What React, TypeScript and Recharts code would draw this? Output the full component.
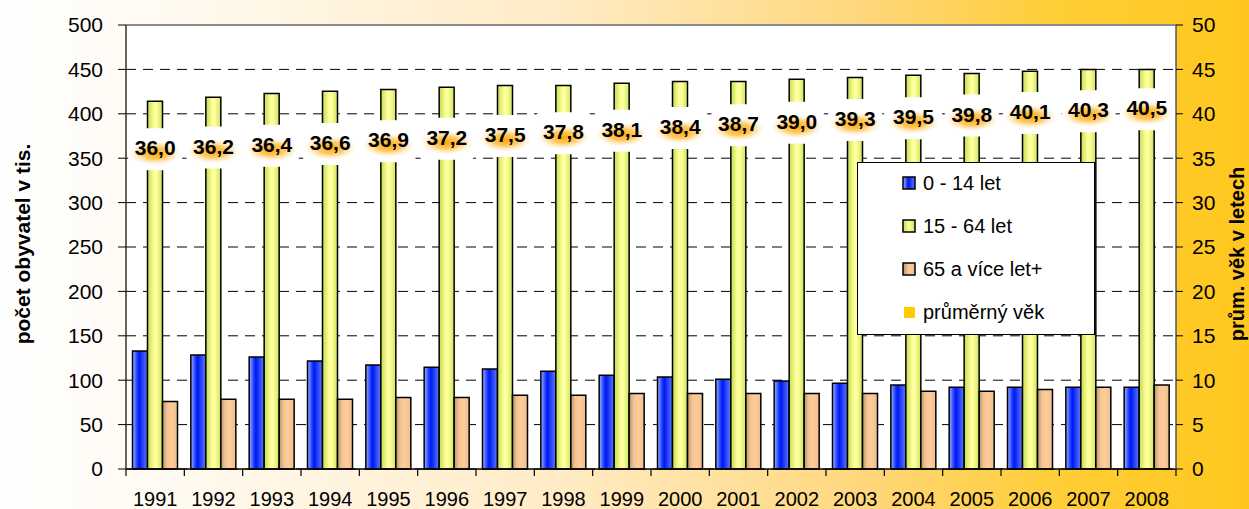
import React from 'react';
import {
  ComposedChart,
  Bar,
  Line,
  XAxis,
  YAxis,
  CartesianGrid,
  Legend,
  LabelList,
  ReferenceLine,
} from 'recharts';

const years = ['1991', '1992', '1993', '1994', '1995', '1996', '1997', '1998', '1999', '2000', '2001', '2002', '2003', '2004', '2005', '2006', '2007', '2008'];
const kids = [133, 128.5, 126, 121.5, 117, 114.5, 112.5, 110, 105.5, 103.5, 101, 99, 96.5, 94.5, 92, 92, 92, 92];
const working = [414, 418.5, 423, 425.5, 427.5, 430, 432, 432, 434.5, 436.5, 436.5, 439, 441, 443.5, 445.5, 448, 450, 450];
const seniors = [76, 78.5, 78.5, 78.5, 80.5, 80.5, 83, 83, 85, 85, 85, 85, 85, 87.5, 87.5, 89.5, 92, 94.5];
const avgAge = [36.0, 36.2, 36.4, 36.6, 36.9, 37.2, 37.5, 37.8, 38.1, 38.4, 38.7, 39.0, 39.3, 39.5, 39.8, 40.1, 40.3, 40.5];

const leftTicks = [0, 50, 100, 150, 200, 250, 300, 350, 400, 450, 500];
const rightTicks = [0, 5, 10, 15, 20, 25, 30, 35, 40, 45, 50];

const seriesNames = {
  kids: '0 - 14 let',
  working: '15 - 64 let',
  seniors: '65 a více let+',
  avg: 'průměrný věk',
};

const data = years.map((y, i) => ({
  year: y,
  kids: kids[i],
  working: working[i],
  seniors: seniors[i],
  avg: avgAge[i],
}));

const FONT = "'Liberation Sans', Arial, sans-serif";

const gradId: Record<string, string> = {
  kids: 'url(#gBlue)',
  working: 'url(#gGreen)',
  seniors: 'url(#gTan)',
};

const Gradients = () => (
  <defs>
    <linearGradient id="gBlue" x1="0" y1="0" x2="1" y2="0">
      <stop offset="0" stopColor="#9CB6FF" />
      <stop offset="0.3" stopColor="#2040FF" />
      <stop offset="0.45" stopColor="#0018F0" />
      <stop offset="1" stopColor="#5C7CFF" />
    </linearGradient>
    <linearGradient id="gGreen" x1="0" y1="0" x2="1" y2="0">
      <stop offset="0" stopColor="#C2DC50" />
      <stop offset="0.45" stopColor="#FFFF9C" />
      <stop offset="0.6" stopColor="#FFFF9C" />
      <stop offset="1" stopColor="#CCE460" />
    </linearGradient>
    <linearGradient id="gTan" x1="0" y1="0" x2="1" y2="0">
      <stop offset="0" stopColor="#B89468" />
      <stop offset="0.3" stopColor="#F2C494" />
      <stop offset="0.6" stopColor="#FFCC99" />
      <stop offset="1" stopColor="#EDBE8E" />
    </linearGradient>
    <radialGradient id="gGlow" cx="0.5" cy="0.5" r="0.5">
      <stop offset="0" stopColor="#FFA800" stopOpacity="1" />
      <stop offset="0.5" stopColor="#FFB830" stopOpacity="0.75" />
      <stop offset="1" stopColor="#FFE0A0" stopOpacity="0" />
    </radialGradient>
  </defs>
);

const AgeLabel = (props: any) => {
  const { x, y, value } = props;
  if (x == null || y == null) return null;
  const txt = Number(value).toFixed(1).replace('.', ',');
  return (
    <g>
      <rect x={x - 27} y={y - 21} width={54} height={42} rx={4} fill="#fff" />
      <ellipse cx={x} cy={y + 4} rx={26} ry={12} fill="url(#gGlow)" />
      <text
        x={x}
        y={y + 6}
        textAnchor="middle"
        fontFamily={FONT}
        fontWeight="bold"
        fontSize={21}
        fill="#000"
      >
        {txt}
      </text>
    </g>
  );
};

const XTick = (props: any) => {
  const { x, y, payload, index } = props;
  const half = payload && typeof payload.offset === 'number' ? payload.offset : 0;
  return (
    <g>
      <line x1={x - half} x2={x - half} y1={y} y2={y + 7} stroke="#000" strokeWidth={1.2} />
      {index === years.length - 1 && (
        <line x1={x + half} x2={x + half} y1={y} y2={y + 7} stroke="#000" strokeWidth={1.2} />
      )}
      <text x={x} y={y + 37} textAnchor="middle" fontFamily={FONT} fontSize={20} fill="#000">
        {payload.value}
      </text>
    </g>
  );
};

const AxisTitle = (props: any) => {
  const { viewBox, text, dx, dy, size } = props;
  if (!viewBox) return null;
  const cx = viewBox.x + dx;
  const cy = viewBox.y + viewBox.height / 2 + dy;
  return (
    <text
      x={cx}
      y={cy}
      transform={`rotate(-90, ${cx}, ${cy})`}
      textAnchor="middle"
      dominantBaseline="central"
      fontFamily={FONT}
      fontWeight="bold"
      fontSize={size}
      fill="#000"
    >
      {text}
    </text>
  );
};

const LegendBox = (props: any) => {
  const payload = props.payload || [];
  return (
    <div
      style={{
        position: 'relative',
        width: 238,
        height: 173,
        boxSizing: 'border-box',
        background: '#fff',
        border: '1.5px solid #000',
        fontFamily: FONT,
        fontSize: 20,
        color: '#000',
      }}
    >
      {payload.map((p: any, i: number) => {
        const key = p.dataKey as string;
        const isAvg = key === 'avg';
        return (
          <div
            key={key}
            style={{ position: 'absolute', left: 0, top: 20 + i * 43 - 12, height: 24, width: '100%' }}
          >
            {isAvg ? (
              <svg width={12} height={12} style={{ position: 'absolute', left: 46, top: 7 }}>
                <rect x={0} y={0} width={11} height={11} fill="#FFCC00" />
              </svg>
            ) : (
              <svg width={14} height={14} style={{ position: 'absolute', left: 44, top: 5 }}>
                <defs>
                  <linearGradient id={`lg-${key}`} x1="0" y1="0" x2="1" y2="0">
                    {key === 'kids' && (
                      <>
                        <stop offset="0" stopColor="#9CB6FF" />
                        <stop offset="0.45" stopColor="#0018F0" />
                        <stop offset="1" stopColor="#5C7CFF" />
                      </>
                    )}
                    {key === 'working' && (
                      <>
                        <stop offset="0" stopColor="#C2DC50" />
                        <stop offset="0.5" stopColor="#FFFF9C" />
                        <stop offset="1" stopColor="#CCE460" />
                      </>
                    )}
                    {key === 'seniors' && (
                      <>
                        <stop offset="0" stopColor="#B89468" />
                        <stop offset="0.5" stopColor="#FFCC99" />
                        <stop offset="1" stopColor="#EDBE8E" />
                      </>
                    )}
                  </linearGradient>
                </defs>
                <rect x={1} y={1} width={12} height={12} fill={`url(#lg-${key})`} stroke="#000" strokeWidth={1.5} />
              </svg>
            )}
            <span style={{ position: 'absolute', left: 65, top: 0, lineHeight: '24px', whiteSpace: 'nowrap' }}>
              {p.value}
            </span>
          </div>
        );
      })}
    </div>
  );
};

export default function App() {
  return (
    <div
      style={{
        position: 'fixed',
        left: 0,
        top: 0,
        width: 1249,
        height: 509,
        background:
          'linear-gradient(to right, #FFFFFF 0%, #FFFBF3 12%, #FFEBC5 45%, #FFD77C 69%, #FFCD35 85%, #FFC71E 100%)',
      }}
    >
      <ComposedChart
        width={1249}
        height={509}
        data={data}
        margin={{ top: 25, right: 0, left: 0, bottom: 0 }}
        barGap={0}
        barCategoryGap={6.5}
      >
        <Gradients />
        <CartesianGrid
          yAxisId="left"
          vertical={false}
          stroke="#000"
          strokeDasharray="10 7"
          fill="#fff"
          fillOpacity={1}
        />
        <XAxis
          dataKey="year"
          height={40}
          axisLine={{ stroke: '#000', strokeWidth: 1.5 }}
          tickLine={false}
          tickSize={0}
          tickMargin={0}
          interval={0}
          tick={<XTick />}
        />
        <YAxis
          yAxisId="left"
          width={126}
          domain={[0, 500]}
          ticks={leftTicks}
          interval={0}
          axisLine={{ stroke: '#333', strokeWidth: 1.5 }}
          tickLine={{ stroke: '#000' }}
          tickSize={8}
          tickMargin={15}
          tick={{ fontFamily: FONT, fontSize: 21, fill: '#000' }}
          label={<AxisTitle text="počet obyvatel v tis." dx={22} dy={-3} size={21} />}
        />
        <YAxis
          yAxisId="right"
          orientation="right"
          width={73}
          domain={[0, 50]}
          ticks={rightTicks}
          interval={0}
          axisLine={{ stroke: '#555', strokeWidth: 1.5 }}
          tickLine={{ stroke: '#000' }}
          tickSize={7}
          tickMargin={9}
          tick={{ fontFamily: FONT, fontSize: 21, fill: '#000' }}
          label={<AxisTitle text="prům. věk v letech" dx={61} dy={7} size={20} />}
        />
        <ReferenceLine yAxisId="left" y={500} stroke="#8C8C8C" strokeWidth={2} />
        <Bar yAxisId="left" dataKey="kids" name={seriesNames.kids} fill={gradId.kids} stroke="#000" strokeWidth={1.5} isAnimationActive={false} />
        <Bar yAxisId="left" dataKey="working" name={seriesNames.working} fill={gradId.working} stroke="#000" strokeWidth={1.5} isAnimationActive={false} />
        <Bar yAxisId="left" dataKey="seniors" name={seriesNames.seniors} fill={gradId.seniors} stroke="#000" strokeWidth={1.5} isAnimationActive={false} />
        <Line
          yAxisId="right"
          dataKey="avg"
          name={seriesNames.avg}
          stroke="none"
          dot={false}
          activeDot={false}
          isAnimationActive={false}
        >
          <LabelList dataKey="avg" content={<AgeLabel />} />
        </Line>
        <Legend
          layout="vertical"
          align="center"
          verticalAlign="middle"
          content={<LegendBox />}
          wrapperStyle={{ position: 'absolute', left: 857, top: 162, width: 238, height: 173 }}
        />
      </ComposedChart>
    </div>
  );
}
